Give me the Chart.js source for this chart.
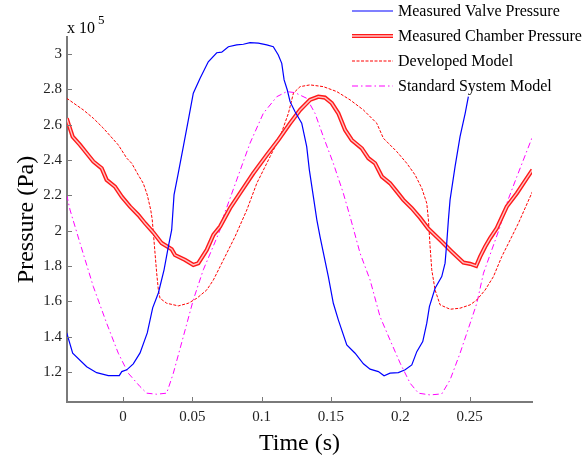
<!DOCTYPE html>
<html>
<head>
<meta charset="utf-8">
<script src="https://cdn.jsdelivr.net/npm/chart.js@4.4.1/dist/chart.umd.min.js"></script>
<style>
    html, body { margin: 0; padding: 0; background: #ffffff; }
    #wrap { width: 588px; height: 459px; }
</style>
</head>
<body>
<div id="wrap"><canvas id="pressureChart" width="588" height="459"></canvas></div>
<script>
// Time in seconds, pressure in units of 1e5 Pa
const valveTime = [-0.0406, -0.0363, -0.0262, -0.0190, -0.0106, -0.0027, -0.0009, 0.0027, 0.0074, 0.0123,
    0.0175, 0.0214, 0.0255, 0.0296, 0.0327, 0.0351, 0.0368, 0.0399, 0.0435, 0.0471,
    0.0507, 0.0556, 0.0615, 0.0676, 0.0712, 0.0760, 0.0820, 0.0868, 0.0916, 0.0976,
    0.1037, 0.1084, 0.1120, 0.1145, 0.1162, 0.1185, 0.1205, 0.1241, 0.1289, 0.1325,
    0.1344, 0.1373, 0.1398, 0.1421, 0.1481, 0.1517, 0.1553, 0.1614, 0.1674, 0.1734,
    0.1782, 0.1842, 0.1883, 0.1926, 0.1986, 0.2035, 0.2083, 0.2119, 0.2162, 0.2191,
    0.2210, 0.2251, 0.2299, 0.2323, 0.2335, 0.2347, 0.2359, 0.2395, 0.2431, 0.2468, 0.2491];
const valvePressure = [1.421, 1.306, 1.230, 1.196, 1.179, 1.179, 1.202, 1.212, 1.246, 1.308,
    1.421, 1.563, 1.647, 1.778, 1.909, 2.004, 2.202, 2.327, 2.475, 2.626,
    2.778, 2.862, 2.956, 3.007, 3.010, 3.041, 3.051, 3.055, 3.064, 3.061,
    3.051, 3.041, 2.994, 2.947, 2.853, 2.796, 2.730, 2.673, 2.608, 2.475,
    2.344, 2.192, 2.061, 1.966, 1.740, 1.589, 1.495, 1.353, 1.306, 1.246,
    1.216, 1.202, 1.178, 1.193, 1.196, 1.212, 1.240, 1.315, 1.372, 1.476,
    1.570, 1.674, 1.740, 1.816, 1.929, 2.061, 2.174, 2.362, 2.532, 2.664, 2.758];

const chamberTime = [-0.0406, -0.0387, -0.0363, -0.0310, -0.0262, -0.0214, -0.0154, -0.0118, -0.0058, -0.0009,
    0.0051, 0.0110, 0.0159, 0.0219, 0.0279, 0.0351, 0.0375, 0.0447, 0.0507, 0.0543,
    0.0604, 0.0652, 0.0700, 0.0772, 0.0844, 0.0940, 0.1037, 0.1120, 0.1205, 0.1277,
    0.1349, 0.1409, 0.1457, 0.1506, 0.1553, 0.1602, 0.1650, 0.1722, 0.1770, 0.1818,
    0.1867, 0.1926, 0.1975, 0.2022, 0.2083, 0.2143, 0.2203, 0.2287, 0.2372, 0.2455,
    0.2504, 0.2547, 0.2576, 0.2612, 0.2648, 0.2696, 0.2768, 0.2841, 0.2913, 0.2953];
const chamberPressure = [2.636, 2.589, 2.532, 2.485, 2.438, 2.391, 2.353, 2.287, 2.249, 2.192,
    2.136, 2.089, 2.042, 1.989, 1.929, 1.895, 1.862, 1.834, 1.806, 1.816,
    1.891, 1.976, 2.023, 2.127, 2.212, 2.325, 2.428, 2.513, 2.608, 2.683,
    2.740, 2.758, 2.753, 2.721, 2.664, 2.570, 2.513, 2.466, 2.410, 2.381,
    2.306, 2.268, 2.221, 2.174, 2.127, 2.072, 2.010, 1.947, 1.881, 1.819,
    1.812, 1.800, 1.853, 1.909, 1.957, 2.014, 2.136, 2.212, 2.297, 2.344];

const developedTime = [-0.0406, -0.0286, -0.0214, -0.0142, -0.0034, 0.0027, 0.0063, 0.0110, 0.0146, 0.0175,
    0.0200, 0.0211, 0.0219, 0.0231, 0.0243, 0.0255, 0.0267, 0.0315, 0.0399, 0.0471,
    0.0532, 0.0604, 0.0652, 0.0700, 0.0724, 0.0808, 0.0893, 0.0965, 0.1061, 0.1133,
    0.1193, 0.1229, 0.1277, 0.1349, 0.1445, 0.1542, 0.1638, 0.1734, 0.1830, 0.1878,
    0.1975, 0.2047, 0.2107, 0.2155, 0.2191, 0.2203, 0.2215, 0.2227, 0.2251, 0.2287,
    0.2359, 0.2431, 0.2504, 0.2552, 0.2612, 0.2672, 0.2732, 0.2792, 0.2852, 0.2953];
const developedPressure = [2.749, 2.683, 2.636, 2.580, 2.485, 2.410, 2.381, 2.315, 2.268, 2.202,
    2.117, 2.061, 1.985, 1.872, 1.759, 1.664, 1.617, 1.589, 1.574, 1.589,
    1.617, 1.664, 1.721, 1.796, 1.834, 1.966, 2.117, 2.268, 2.419, 2.532,
    2.664, 2.778, 2.815, 2.825, 2.815, 2.787, 2.740, 2.683, 2.608, 2.523,
    2.447, 2.381, 2.315, 2.240, 2.155, 2.061, 1.909, 1.778, 1.664, 1.580,
    1.555, 1.561, 1.580, 1.608, 1.664, 1.740, 1.853, 1.947, 2.042, 2.221];

const standardTime = [-0.0406, -0.0382, -0.0310, -0.0214, -0.0118, -0.0034, 0.0038, 0.0123, 0.0171, 0.0243,
    0.0315, 0.0363, 0.0435, 0.0507, 0.0579, 0.0640, 0.0700, 0.0724, 0.0820, 0.0916,
    0.1012, 0.1109, 0.1181, 0.1241, 0.1325, 0.1385, 0.1445, 0.1517, 0.1589, 0.1638,
    0.1710, 0.1782, 0.1854, 0.1926, 0.1999, 0.2071, 0.2131, 0.2215, 0.2299, 0.2359,
    0.2431, 0.2504, 0.2552, 0.2600, 0.2660, 0.2720, 0.2768, 0.2841, 0.2949];
const standardPressure = [2.202, 2.117, 1.929, 1.683, 1.476, 1.306, 1.193, 1.117, 1.080, 1.074,
    1.080, 1.193, 1.400, 1.608, 1.778, 1.891, 2.004, 2.079, 2.287, 2.495,
    2.664, 2.758, 2.787, 2.781, 2.749, 2.664, 2.532, 2.381, 2.212, 2.079,
    1.872, 1.721, 1.513, 1.381, 1.250, 1.136, 1.080, 1.070, 1.076, 1.155,
    1.306, 1.476, 1.589, 1.759, 1.891, 2.023, 2.155, 2.306, 2.523];

const seriesNames = ['Measured Valve Pressure', 'Measured Chamber Pressure', 'Developed Model', 'Standard System Model'];

const xTicks = [0, 0.05, 0.1, 0.15, 0.2, 0.25];
const xTickLabels = ['0', '0.05', '0.1', '0.15', '0.2', '0.25'];
const yTicks = [1.2, 1.4, 1.6, 1.8, 2, 2.2, 2.4, 2.6, 2.8, 3];
const yTickLabels = ['1.2', '1.4', '1.6', '1.8', '2', '2.2', '2.4', '2.6', '2.8', '3'];

const SERIF = '"Liberation Serif", "Times New Roman", serif';
const AXIS_GREY = '#7a7a7a';

function toPoints(times, values) {
    return times.map((t, i) => ({ x: t, y: values[i] }));
}

function lineDataset(label, points, style) {
    return {
        label: label,
        data: points,
        borderColor: style.color,
        borderWidth: style.width,
        borderDash: style.dash || [],
        pointRadius: 0,
        tension: 0,
        fill: false,
    };
}

const blueStyle = { color: '#0000ff', width: 1.2 };
const chamberOuter = { color: '#ff1a1a', width: 4.2 };
const chamberInner = { color: '#ffc4c4', width: 1.4 };
const developedStyle = { color: '#ff0000', width: 1, dash: [3, 1.5] };
const standardStyle = { color: '#ff00ff', width: 1, dash: [6, 3, 1.5, 3] };

// inward tick marks, the x 10^5 multiplier and the legend block
const axisDecor = {
    id: 'axisDecor',
    afterDraw(chart) {
        const { ctx, chartArea, scales } = chart;
        ctx.save();

        ctx.strokeStyle = AXIS_GREY;
        ctx.lineWidth = 1;
        xTicks.forEach((v) => {
            const px = Math.round(scales.x.getPixelForValue(v)) + 0.5;
            ctx.beginPath();
            ctx.moveTo(px, chartArea.bottom);
            ctx.lineTo(px, chartArea.bottom - 5);
            ctx.stroke();
        });
        yTicks.forEach((v) => {
            const py = Math.round(scales.y.getPixelForValue(v)) + 0.5;
            ctx.beginPath();
            ctx.moveTo(chartArea.left, py);
            ctx.lineTo(chartArea.left + 5, py);
            ctx.stroke();
        });

        ctx.fillStyle = '#000000';
        ctx.textBaseline = 'alphabetic';
        ctx.textAlign = 'left';
        ctx.font = '16px ' + SERIF;
        ctx.fillText('x 10', 67, 33);
        ctx.font = '13px ' + SERIF;
        ctx.fillText('5', 98, 24);

        const samples = [
            [blueStyle],
            [chamberOuter, chamberInner],
            [developedStyle],
            [standardStyle],
        ];
        ctx.font = '16px ' + SERIF;
        ctx.textBaseline = 'middle';
        seriesNames.forEach((name, i) => {
            const y = 11 + i * 25;
            samples[i].forEach((s) => {
                ctx.strokeStyle = s.color;
                ctx.lineWidth = s.width;
                ctx.setLineDash(s.dash || []);
                ctx.beginPath();
                ctx.moveTo(352, y);
                ctx.lineTo(393, y);
                ctx.stroke();
            });
            ctx.setLineDash([]);
            ctx.fillStyle = '#000000';
            ctx.fillText(name, 398, y + 1);
        });

        ctx.restore();
    }
};

const ctx = document.getElementById('pressureChart').getContext('2d');
const pressureChart = new Chart(ctx, {
    type: 'line',
    data: {
        datasets: [
            lineDataset(seriesNames[0], toPoints(valveTime, valvePressure), blueStyle),
            lineDataset(seriesNames[1], toPoints(chamberTime, chamberPressure), chamberInner),
            lineDataset(seriesNames[1], toPoints(chamberTime, chamberPressure), chamberOuter),
            lineDataset(seriesNames[2], toPoints(developedTime, developedPressure), developedStyle),
            lineDataset(seriesNames[3], toPoints(standardTime, standardPressure), standardStyle),
        ]
    },
    options: {
        responsive: false,
        animation: false,
        layout: { padding: { top: 37, right: 56, bottom: 0, left: 0 } },
        plugins: {
            legend: { display: false },
            tooltip: { enabled: false },
        },
        scales: {
            x: {
                type: 'linear',
                min: -0.0404,
                max: 0.295,
                grid: { display: false, drawTicks: false },
                border: { display: true, color: AXIS_GREY, width: 2 },
                afterBuildTicks: (scale) => { scale.ticks = xTicks.map((v) => ({ value: v })); },
                afterFit: (scale) => { scale.height = 57; },
                ticks: {
                    autoSkip: false,
                    maxRotation: 0,
                    padding: 6,
                    color: '#222222',
                    font: { family: SERIF, size: 15 },
                    callback: (value, index) => xTickLabels[index],
                },
                title: {
                    display: true,
                    text: 'Time (s)',
                    color: '#000000',
                    font: { family: SERIF, size: 24 },
                    padding: { top: 0, bottom: 1 },
                },
            },
            y: {
                type: 'linear',
                min: 1.03,
                max: 3.096,
                grid: { display: false, drawTicks: false },
                border: { display: true, color: AXIS_GREY, width: 2 },
                afterBuildTicks: (scale) => { scale.ticks = yTicks.map((v) => ({ value: v })); },
                afterFit: (scale) => { scale.width = 67; },
                ticks: {
                    autoSkip: false,
                    padding: 5,
                    color: '#222222',
                    font: { family: SERIF, size: 15 },
                    callback: (value, index) => yTickLabels[index],
                },
                title: {
                    display: true,
                    text: 'Pressure (Pa)',
                    color: '#000000',
                    font: { family: SERIF, size: 24 },
                    padding: { top: 12, bottom: 0 },
                },
            },
        },
    },
    plugins: [axisDecor],
});
</script>
</body>
</html>
